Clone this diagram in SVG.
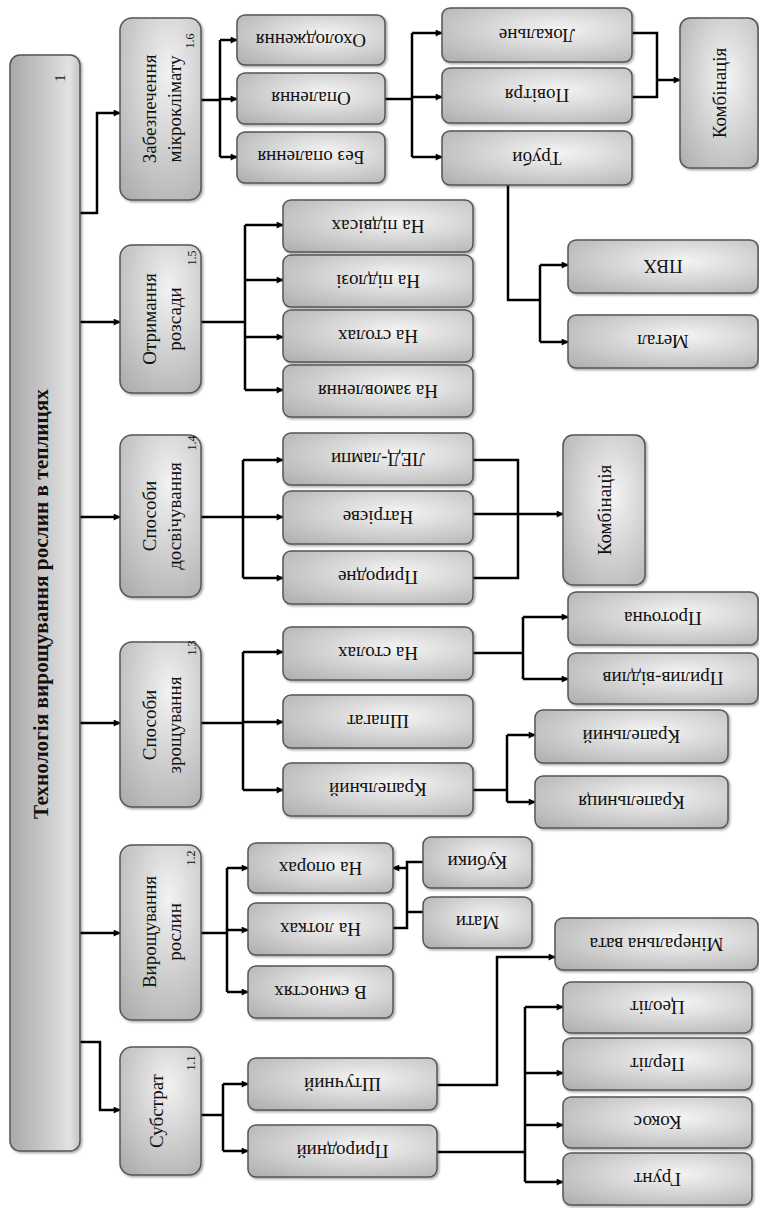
<svg xmlns="http://www.w3.org/2000/svg" width="759" height="1208" viewBox="0 0 759 1208">
<style>
.box{stroke:#555;stroke-width:1.5;fill:url(#g);filter:url(#sh)}
.l1{stroke:#555;stroke-width:1.5;fill:url(#g1);filter:url(#sh)}
.t{font-family:"Liberation Serif",serif;font-size:19px;fill:#111;text-anchor:middle}
.n{font-family:"Liberation Serif",serif;font-size:12px;fill:#111;text-anchor:middle}
.c path{fill:none;stroke:#000;stroke-width:2.5}
.c path.a{marker-end:url(#ar)}
</style>
<defs>
<radialGradient id="g" cx="0.6" cy="0.4" r="0.8">
<stop offset="0" stop-color="#f5f5f5"/>
<stop offset="1" stop-color="#b0b0b0"/>
</radialGradient>
<radialGradient id="g1" cx="0.6" cy="0.3" r="0.9">
<stop offset="0" stop-color="#f2f2f2"/>
<stop offset="1" stop-color="#aaaaaa"/>
</radialGradient>
<linearGradient id="gm" x1="0" y1="0" x2="1" y2="0">
<stop offset="0" stop-color="#a8a8a8"/>
<stop offset="0.6" stop-color="#d0d0d0"/>
<stop offset="0.85" stop-color="#e2e2e2"/>
<stop offset="1" stop-color="#c4c4c4"/>
</linearGradient>
<filter id="sh" x="-10%" y="-10%" width="125%" height="125%">
<feDropShadow dx="1.5" dy="1.5" stdDeviation="1.2" flood-color="#000" flood-opacity="0.35"/>
</filter>
<marker id="ar" viewBox="0 0 10 10" refX="9" refY="5" markerWidth="9" markerHeight="7" markerUnits="userSpaceOnUse" orient="auto">
<path d="M0,0 L10,5 L0,10 z" fill="#000"/>
</marker>
</defs>

<g class="c" id="connectors">
<path class="a" d="M80,213 H97 V113 H120"/>
<path class="a" d="M80,322 H120"/>
<path class="a" d="M80,517 H120"/>
<path class="a" d="M80,723 H120"/>
<path class="a" d="M80,933 H120"/>
<path class="a" d="M80,1042 H100 V1110 H120"/>

<path d="M200,100 H220 M220,40 V157"/>
<path class="a" d="M220,40 H237"/>
<path class="a" d="M220,99 H237"/>
<path class="a" d="M220,157 H237"/>
<path d="M385,99 H412 M412,33 V157"/>
<path class="a" d="M412,33 H442"/>
<path class="a" d="M412,97 H442"/>
<path class="a" d="M412,157 H442"/>
<path d="M632,33 H657 V97 H632"/>
<path class="a" d="M657,80 H680"/>
<path d="M508,185 V300 H540 M540,265 V342"/>
<path class="a" d="M540,265 H568"/>
<path class="a" d="M540,342 H568"/>

<path d="M200,322 H245 M245,225 V390"/>
<path class="a" d="M245,225 H283"/>
<path class="a" d="M245,280 H283"/>
<path class="a" d="M245,337 H283"/>
<path class="a" d="M245,390 H283"/>

<path d="M200,517 H243 M243,460 V578"/>
<path class="a" d="M243,460 H283"/>
<path class="a" d="M243,517 H283"/>
<path class="a" d="M243,578 H283"/>
<path d="M473,460 H518 V578 H473"/>
<path class="a" d="M473,514 H563"/>

<path d="M200,723 H243 M243,652 V790"/>
<path class="a" d="M243,652 H283"/>
<path class="a" d="M243,722 H283"/>
<path class="a" d="M243,790 H283"/>
<path d="M473,653 H523 M523,617 V679"/>
<path class="a" d="M523,617 H568"/>
<path class="a" d="M523,679 H568"/>
<path d="M473,790 H507 M507,735 V802"/>
<path class="a" d="M507,735 H535"/>
<path class="a" d="M507,802 H535"/>

<path d="M200,933 H227 M227,868 V992"/>
<path class="a" d="M227,868 H248"/>
<path class="a" d="M227,930 H248"/>
<path class="a" d="M227,992 H248"/>
<path d="M423,862 H407 V928 H393 M423,912 H407"/>
<path class="a" d="M407,868 H393"/>

<path d="M200,1115 H223 M223,1084 V1151"/>
<path class="a" d="M223,1084 H248"/>
<path class="a" d="M223,1151 H248"/>
<path class="a" d="M437,1085 H497 V957 H555"/>
<path d="M437,1152 H525 M525,1007 V1182"/>
<path class="a" d="M525,1007 H563"/>
<path class="a" d="M525,1073 H563"/>
<path class="a" d="M525,1125 H563"/>
<path class="a" d="M525,1182 H563"/>
</g>

<g id="n1">
<rect x="10" y="55" width="70" height="1096" rx="10" fill="url(#gm)" stroke="#555" stroke-width="1.5" filter="url(#sh)"/>
<text transform="translate(42,604) rotate(-90)" y="6" font-family="Liberation Serif, serif" font-size="20" font-weight="bold" text-anchor="middle" textLength="430" lengthAdjust="spacingAndGlyphs" fill="#111">Технологія  вирощування рослин в теплицях</text>
<text transform="translate(60,78) rotate(-90)" y="5" font-family="Liberation Serif, serif" font-size="15" text-anchor="middle" fill="#111">1</text>
</g>

<g id="n16">
<rect class="l1" x="120" y="18" width="81" height="182" rx="12"/>
<text class="t" transform="translate(160,109) rotate(-90)"><tspan x="0" y="-4">Забезпечення</tspan><tspan x="0" y="21">мікроклімату</tspan></text>
<text class="n" transform="translate(190,41) rotate(-90)" y="4">1.6</text>
</g>
<g id="n15">
<rect class="l1" x="120" y="245" width="81" height="148" rx="12"/>
<text class="t" transform="translate(160,319) rotate(-90)"><tspan x="0" y="-4">Отримання</tspan><tspan x="0" y="21">розсади</tspan></text>
<text class="n" transform="translate(192,258) rotate(-90)" y="4">1.5</text>
</g>
<g id="n14">
<rect class="l1" x="120" y="435" width="81" height="162" rx="12"/>
<text class="t" transform="translate(160,516) rotate(-90)"><tspan x="0" y="-4">Способи</tspan><tspan x="0" y="21">досвічування</tspan></text>
<text class="n" transform="translate(192,443) rotate(-90)" y="4">1.4</text>
</g>
<g id="n13">
<rect class="l1" x="120" y="642" width="81" height="165" rx="12"/>
<text class="t" transform="translate(160,725) rotate(-90)"><tspan x="0" y="-4">Способи</tspan><tspan x="0" y="21">зрощування</tspan></text>
<text class="n" transform="translate(192,648) rotate(-90)" y="4">1.3</text>
</g>
<g id="n12">
<rect class="l1" x="120" y="845" width="81" height="175" rx="12"/>
<text class="t" transform="translate(160,932) rotate(-90)"><tspan x="0" y="-4">Вирощування</tspan><tspan x="0" y="21">рослин</tspan></text>
<text class="n" transform="translate(191,858) rotate(-90)" y="4">1.2</text>
</g>
<g id="n11">
<rect class="l1" x="120" y="1047" width="81" height="128" rx="12"/>
<text class="t" transform="translate(160,1111) rotate(-90)" y="3">Субстрат</text>
<text class="n" transform="translate(191,1063) rotate(-90)" y="4">1.1</text>
</g>

<g id="cool"><rect class="box" x="237" y="15" width="148" height="50" rx="8"/><text class="t" transform="translate(311,40) rotate(180)" y="6.5">Охолодження</text></g>
<g id="heat"><rect class="box" x="237" y="73" width="148" height="51" rx="8"/><text class="t" transform="translate(311,98.5) rotate(180)" y="6.5">Опалення</text></g>
<g id="noheat"><rect class="box" x="237" y="132" width="148" height="51" rx="8"/><text class="t" transform="translate(311,157.5) rotate(180)" y="6.5">Без опалення</text></g>
<g id="local"><rect class="box" x="442" y="8" width="190" height="54" rx="8"/><text class="t" transform="translate(537,35) rotate(180)" y="6.5">Локальне</text></g>
<g id="air"><rect class="box" x="442" y="68" width="190" height="55" rx="8"/><text class="t" transform="translate(537,95.5) rotate(180)" y="6.5">Повітря</text></g>
<g id="pipes"><rect class="box" x="442" y="131" width="190" height="54" rx="8"/><text class="t" transform="translate(537,158) rotate(180)" y="6.5">Труби</text></g>
<g id="combA"><rect class="box" x="680" y="18" width="78" height="150" rx="10"/><text class="t" transform="translate(719,93) rotate(-90)" y="6.5">Комбінація</text></g>
<g id="pvc"><rect class="box" x="568" y="240" width="190" height="53" rx="8"/><text class="t" transform="translate(663,266.5) rotate(180)" y="6.5">ПВХ</text></g>
<g id="metal"><rect class="box" x="568" y="315" width="190" height="53" rx="8"/><text class="t" transform="translate(663,341.5) rotate(180)" y="6.5">Метал</text></g>

<g id="hang"><rect class="box" x="283" y="200" width="190" height="52" rx="8"/><text class="t" transform="translate(378,226) rotate(180)" y="6.5">На підвісах</text></g>
<g id="floor"><rect class="box" x="283" y="255" width="190" height="52" rx="8"/><text class="t" transform="translate(378,281) rotate(180)" y="6.5">На підлозі</text></g>
<g id="tables1"><rect class="box" x="283" y="310" width="190" height="52" rx="8"/><text class="t" transform="translate(378,336) rotate(180)" y="6.5">На столах</text></g>
<g id="order"><rect class="box" x="283" y="365" width="190" height="52" rx="8"/><text class="t" transform="translate(378,391) rotate(180)" y="6.5">На замовлення</text></g>

<g id="led"><rect class="box" x="283" y="433" width="190" height="52" rx="8"/><text class="t" transform="translate(378,459) rotate(180)" y="6.5">ЛЕД-лампи</text></g>
<g id="sodium"><rect class="box" x="283" y="491" width="190" height="53" rx="8"/><text class="t" transform="translate(378,517.5) rotate(180)" y="6.5">Натрієве</text></g>
<g id="natural"><rect class="box" x="283" y="551" width="190" height="53" rx="8"/><text class="t" transform="translate(378,577.5) rotate(180)" y="6.5">Природне</text></g>
<g id="combB"><rect class="box" x="563" y="435" width="82" height="150" rx="10"/><text class="t" transform="translate(604,510) rotate(-90)" y="6.5">Комбінація</text></g>

<g id="tables2"><rect class="box" x="283" y="627" width="190" height="53" rx="8"/><text class="t" transform="translate(378,653.5) rotate(180)" y="6.5">На столах</text></g>
<g id="twine"><rect class="box" x="283" y="695" width="190" height="53" rx="8"/><text class="t" transform="translate(378,721.5) rotate(180)" y="6.5">Шпагат</text></g>
<g id="drip1"><rect class="box" x="283" y="763" width="190" height="53" rx="8"/><text class="t" transform="translate(378,789.5) rotate(180)" y="6.5">Крапельний</text></g>
<g id="flow"><rect class="box" x="568" y="592" width="190" height="53" rx="8"/><text class="t" transform="translate(663,618.5) rotate(180)" y="6.5">Проточна</text></g>
<g id="ebb"><rect class="box" x="568" y="653" width="190" height="51" rx="8"/><text class="t" transform="translate(663,678.5) rotate(180)" y="6.5">Прилив-відлив</text></g>
<g id="drip2"><rect class="box" x="535" y="710" width="193" height="53" rx="8"/><text class="t" transform="translate(631.5,736.5) rotate(180)" y="6.5">Крапельний</text></g>
<g id="dripper"><rect class="box" x="535" y="776" width="193" height="52" rx="8"/><text class="t" transform="translate(631.5,802) rotate(180)" y="6.5">Крапельниця</text></g>

<g id="supports"><rect class="box" x="248" y="843" width="145" height="50" rx="8"/><text class="t" transform="translate(320.5,868) rotate(180)" y="6.5">На опорах</text></g>
<g id="trays"><rect class="box" x="248" y="903" width="145" height="52" rx="8"/><text class="t" transform="translate(320.5,929) rotate(180)" y="6.5">На лотках</text></g>
<g id="containers"><rect class="box" x="248" y="966" width="145" height="52" rx="8"/><text class="t" transform="translate(320.5,992) rotate(180)" y="6.5">В ємностях</text></g>
<g id="cubes"><rect class="box" x="423" y="837" width="109" height="51" rx="8"/><text class="t" transform="translate(477.5,862.5) rotate(180)" y="6.5">Кубики</text></g>
<g id="mats"><rect class="box" x="423" y="897" width="109" height="51" rx="8"/><text class="t" transform="translate(477.5,922.5) rotate(180)" y="6.5">Мати</text></g>

<g id="artificial"><rect class="box" x="248" y="1058" width="189" height="52" rx="8"/><text class="t" transform="translate(342.5,1084) rotate(180)" y="6.5">Штучний</text></g>
<g id="naturalsub"><rect class="box" x="248" y="1125" width="189" height="52" rx="8"/><text class="t" transform="translate(342.5,1151) rotate(180)" y="6.5">Природний</text></g>
<g id="wool"><rect class="box" x="555" y="918" width="203" height="52" rx="8"/><text class="t" transform="translate(656.5,944) rotate(180)" y="6.5">Мінеральна вата</text></g>
<g id="zeolite"><rect class="box" x="563" y="982" width="189" height="51" rx="8"/><text class="t" transform="translate(657.5,1007.5) rotate(180)" y="6.5">Цеоліт</text></g>
<g id="perlite"><rect class="box" x="563" y="1038" width="189" height="52" rx="8"/><text class="t" transform="translate(657.5,1064) rotate(180)" y="6.5">Перліт</text></g>
<g id="coco"><rect class="box" x="563" y="1097" width="189" height="51" rx="8"/><text class="t" transform="translate(657.5,1122.5) rotate(180)" y="6.5">Кокос</text></g>
<g id="soil"><rect class="box" x="563" y="1153" width="189" height="52" rx="8"/><text class="t" transform="translate(657.5,1179) rotate(180)" y="6.5">Грунт</text></g>
</svg>
